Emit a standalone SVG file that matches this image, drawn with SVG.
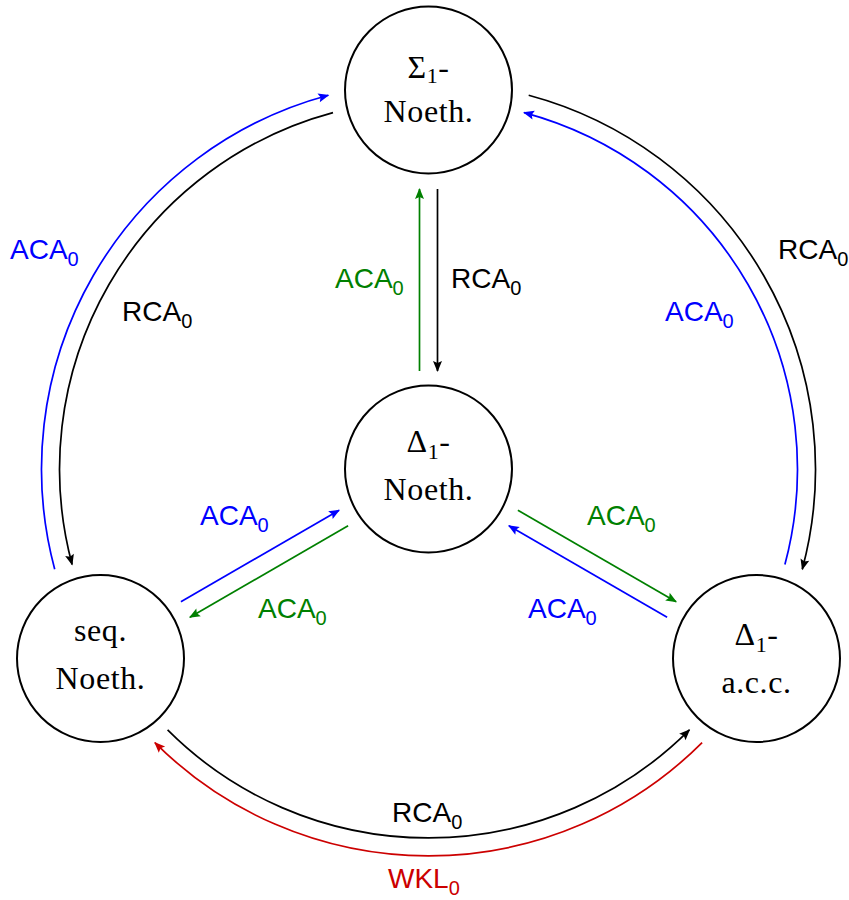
<svg xmlns="http://www.w3.org/2000/svg" width="849" height="900" viewBox="0 0 849 900">
<style>
.node circle { fill: #ffffff; stroke: #000000; stroke-width: 2; }
.nt { font-family: "Liberation Serif", "DejaVu Serif", serif; font-size: 32px; letter-spacing: 0.6px; fill: #000000; text-anchor: middle; }
.ns { font-size: 22px; }
.lbl { font-family: "Liberation Sans", Arial, sans-serif; font-size: 28px; }
.sub { font-size: 20px; }
.e { fill: none; stroke-width: 1.7; }
.k { stroke: #000000; } .kt { fill: #000000; }
.b { stroke: #0000ff; } .bt { fill: #0000ff; }
.g { stroke: #008000; } .gt { fill: #008000; }
.r { stroke: #cc0000; } .rt { fill: #cc0000; }
</style>
<defs>
<marker id="ak" viewBox="-11 -6 13 12" refX="0" refY="0" markerWidth="13" markerHeight="12" markerUnits="userSpaceOnUse" orient="auto"><path d="M1,0 L-10,-4.5 L-8,0 L-10,4.5 Z" fill="#000000"/></marker>
<marker id="ab" viewBox="-11 -6 13 12" refX="0" refY="0" markerWidth="13" markerHeight="12" markerUnits="userSpaceOnUse" orient="auto"><path d="M1,0 L-10,-4.5 L-8,0 L-10,4.5 Z" fill="#0000ff"/></marker>
<marker id="ag" viewBox="-11 -6 13 12" refX="0" refY="0" markerWidth="13" markerHeight="12" markerUnits="userSpaceOnUse" orient="auto"><path d="M1,0 L-10,-4.5 L-8,0 L-10,4.5 Z" fill="#008000"/></marker>
<marker id="ar" viewBox="-11 -6 13 12" refX="0" refY="0" markerWidth="13" markerHeight="12" markerUnits="userSpaceOnUse" orient="auto"><path d="M1,0 L-10,-4.5 L-8,0 L-10,4.5 Z" fill="#cc0000"/></marker>
</defs>

<g id="connectors">
  <!-- left arcs -->
  <path class="e b" d="M54.7,569.2 A387,387 0 0 1 328.3,95.2" marker-end="url(#ab)"/>
  <path class="e k" d="M333,112.6 A369,369 0 0 0 72.1,564.5" marker-end="url(#ak)"/>
  <!-- right arcs -->
  <path class="e k" d="M528.7,95.2 A387,387 0 0 1 802.3,569.2" marker-end="url(#ak)"/>
  <path class="e b" d="M784.9,564.5 A369,369 0 0 0 524,112.6" marker-end="url(#ab)"/>
  <!-- bottom arcs -->
  <path class="e k" d="M167.6,729.9 A369,369 0 0 0 689.4,729.9" marker-end="url(#ak)"/>
  <path class="e r" d="M702.1,742.6 A387,387 0 0 1 154.9,742.6" marker-end="url(#ar)"/>
  <!-- vertical -->
  <path class="e g" d="M419.5,371 L419.5,189" marker-end="url(#ag)"/>
  <path class="e k" d="M437.5,189 L437.5,371" marker-end="url(#ak)"/>
  <!-- bottom-left to center -->
  <path class="e b" d="M180.9,601.7 L339.1,510.2" marker-end="url(#ab)"/>
  <path class="e g" d="M348.1,525.8 L189.9,617.3" marker-end="url(#ag)"/>
  <!-- center to bottom-right -->
  <path class="e g" d="M517.9,510.2 L676.1,601.7" marker-end="url(#ag)"/>
  <path class="e b" d="M667.1,617.3 L508.9,525.8" marker-end="url(#ab)"/>

  <!-- labels -->
  <text class="lbl bt" x="10" y="259">ACA<tspan class="sub" dy="7">0</tspan></text>
  <text class="lbl kt" x="122" y="321">RCA<tspan class="sub" dy="7">0</tspan></text>
  <text class="lbl kt" x="778" y="259">RCA<tspan class="sub" dy="7">0</tspan></text>
  <text class="lbl bt" x="665" y="321">ACA<tspan class="sub" dy="7">0</tspan></text>
  <text class="lbl gt" x="335" y="288">ACA<tspan class="sub" dy="7">0</tspan></text>
  <text class="lbl kt" x="451" y="288">RCA<tspan class="sub" dy="7">0</tspan></text>
  <text class="lbl bt" x="200" y="525">ACA<tspan class="sub" dy="7">0</tspan></text>
  <text class="lbl gt" x="258" y="618">ACA<tspan class="sub" dy="7">0</tspan></text>
  <text class="lbl gt" x="587" y="525">ACA<tspan class="sub" dy="7">0</tspan></text>
  <text class="lbl bt" x="528" y="618">ACA<tspan class="sub" dy="7">0</tspan></text>
  <text class="lbl kt" x="392" y="822">RCA<tspan class="sub" dy="7">0</tspan></text>
  <text class="lbl rt" x="388" y="888">WKL<tspan class="sub" dy="7">0</tspan></text>
</g>

<g id="sigma1" class="node">
  <circle cx="428.5" cy="90" r="83.5"/>
  <text class="nt" x="428.5" y="78">Σ<tspan class="ns" dy="5">1</tspan><tspan dy="-5">-</tspan></text>
  <text class="nt" x="428.5" y="122">Noeth.</text>
</g>
<g id="delta1" class="node">
  <circle cx="428.5" cy="469" r="83.5"/>
  <text class="nt" x="428.5" y="452">Δ<tspan class="ns" dy="7">1</tspan><tspan dy="-7">-</tspan></text>
  <text class="nt" x="428.5" y="500">Noeth.</text>
</g>
<g id="seq" class="node">
  <circle cx="100.5" cy="658.5" r="83.5"/>
  <text class="nt" x="100.5" y="641">seq.</text>
  <text class="nt" x="100.5" y="689">Noeth.</text>
</g>
<g id="acc" class="node">
  <circle cx="756.5" cy="658.5" r="83.5"/>
  <text class="nt" x="756.5" y="645">Δ<tspan class="ns" dy="7">1</tspan><tspan dy="-7">-</tspan></text>
  <text class="nt" x="756.5" y="693">a.c.c.</text>
</g>
</svg>
